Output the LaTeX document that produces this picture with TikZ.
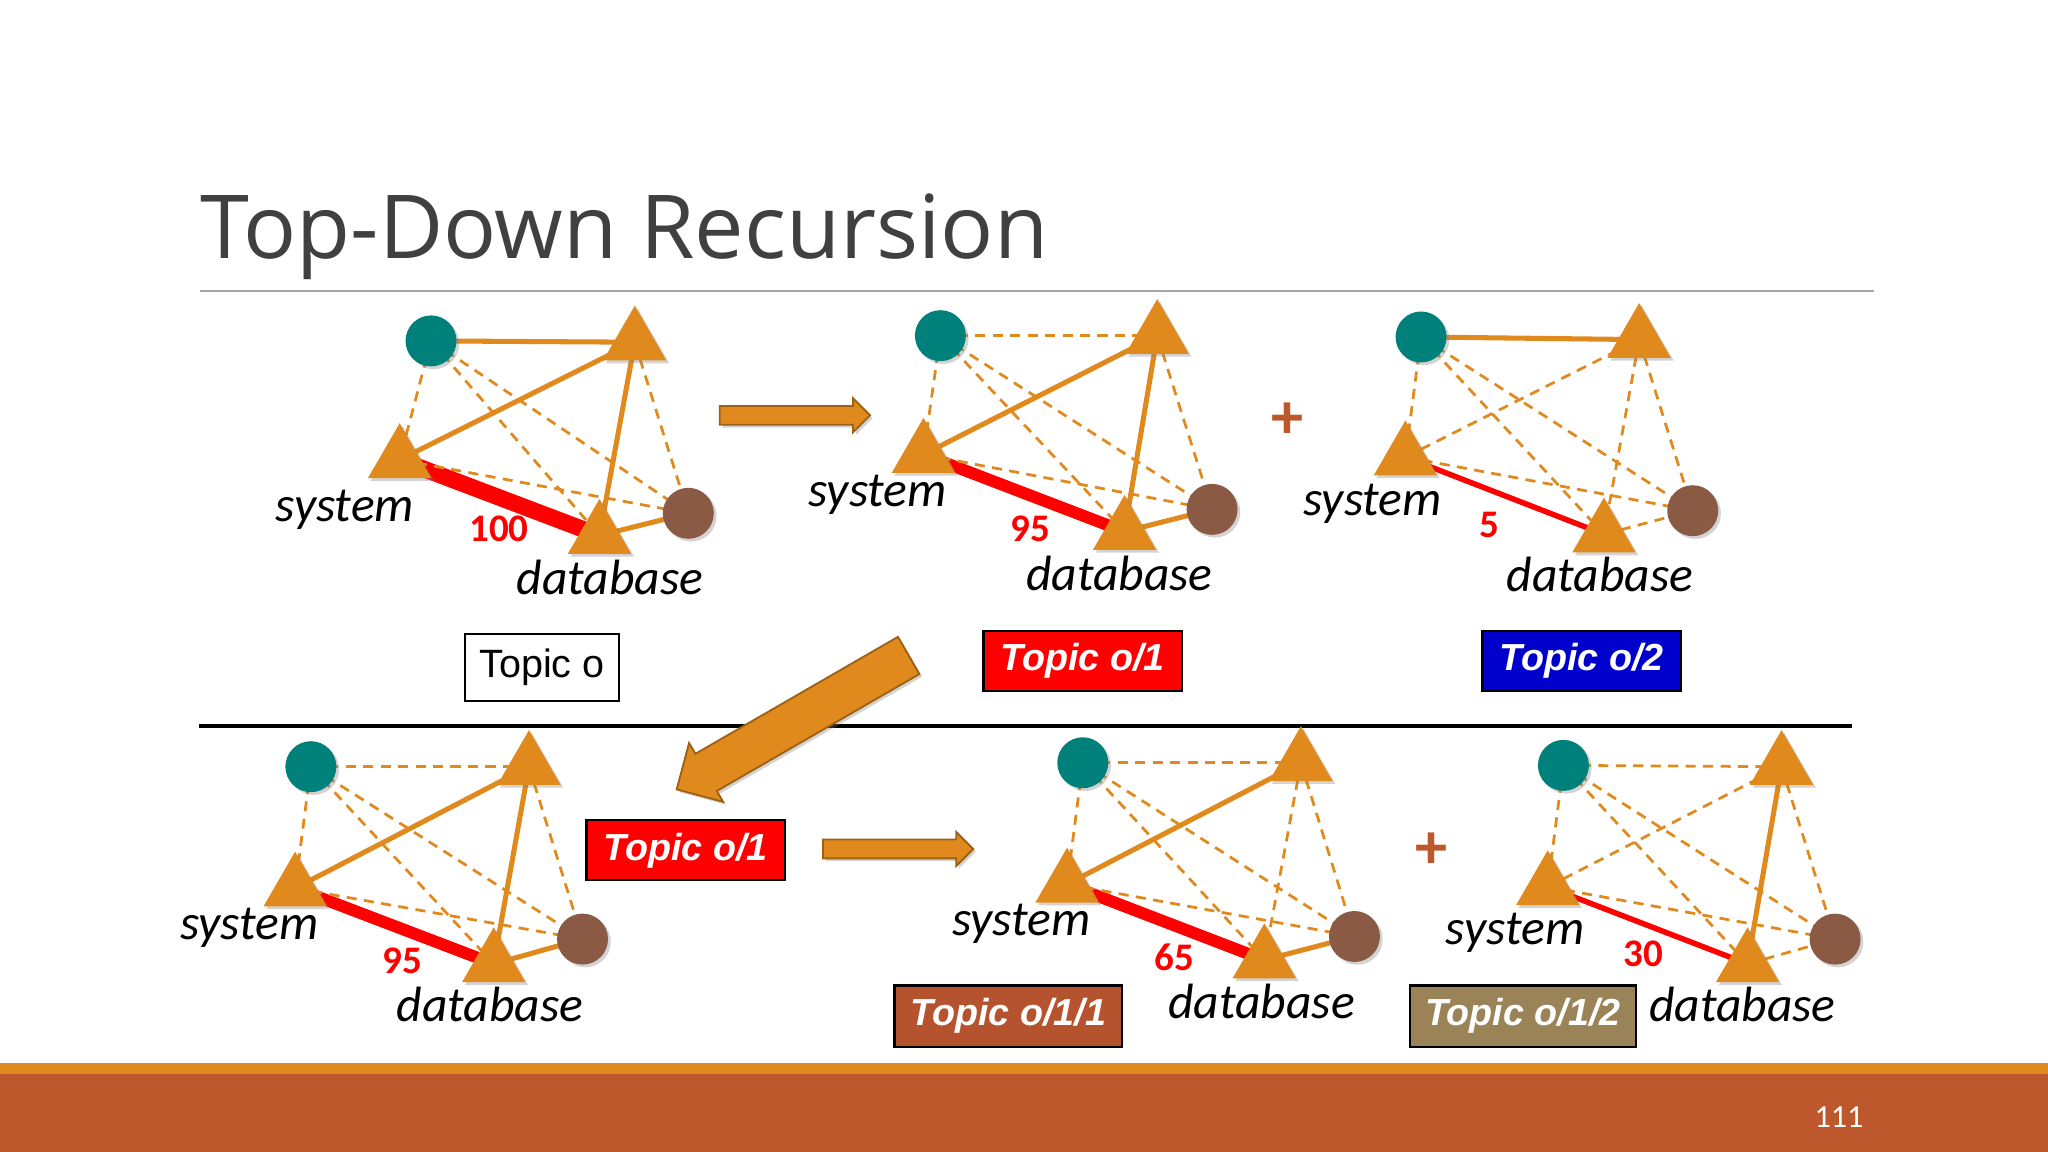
\documentclass[tikz,border=0pt]{standalone}
\usepackage{fontspec}
\setmainfont{Carlito}
\newfontfamily\titlefont{Open Sans}
\newfontfamily\boxfont{Liberation Sans}
\usetikzlibrary{shapes.geometric,shapes.arrows,shadows,backgrounds}
\definecolor{orng}{HTML}{E08A1E}
\definecolor{rust}{HTML}{BD582C}
\definecolor{teal1}{HTML}{00807A}
\definecolor{brwn}{HTML}{8B5A45}
\definecolor{brn2}{HTML}{B5532E}
\definecolor{olv}{HTML}{9A8356}
\tikzset{
  shd/.style={drop shadow={opacity=0.35,shadow xshift=0.6pt,shadow yshift=-0.6pt}},
  tri/.style={regular polygon,regular polygon sides=3,minimum size=0.56cm,inner sep=0,fill=orng,shd},
  tnode/.style={circle,minimum size=0.39cm,inner sep=0,fill=teal1,shd},
  bnode/.style={circle,minimum size=0.39cm,inner sep=0,fill=brwn,shd},
  se/.style={orng,line width=1.1pt},
  de/.style={orng,line width=0.6pt,dash pattern=on 2.2pt off 1.6pt},
  re/.style={red,line width=#1},
  lbl/.style={font=\fontsize{10.8}{12}\selectfont\itshape},
  num/.style={text=red,font=\fontsize{8.5}{10}\selectfont\bfseries},
  topic/.style={draw=black,line width=0.5pt,fill=#1,text=white,minimum width=1.52cm,minimum height=0.46cm,inner sep=0,
    font=\boxfont\fontsize{8.2}{9}\selectfont\bfseries\itshape},
  rarrow/.style={single arrow,fill=orng,draw=orng!70!black,line width=0.4pt,minimum height=1.15cm,
    minimum width=0.26cm,single arrow head extend=0.05cm,inner xsep=0,inner ysep=0.055cm,text height=0pt,text depth=0pt,shd},
  plus/.style={text=rust,font=\fontsize{14}{14}\selectfont\bfseries}
}
% prefix, teal, top triangle, system, database, brown
\newcommand\Gnodes[6]{%
  \node[tnode] (#1t) at (#2) {};
  \node[tri] (#1u) at (#3) {};
  \node[tri] (#1s) at (#4) {};
  \node[tri] (#1d) at (#5) {};
  \node[bnode] (#1b) at (#6) {};
}
\begin{document}
\begin{tikzpicture}[x=0.01cm,y=-0.01cm]
\useasboundingbox (0,0) rectangle (1568,882);
% frame
\fill[orng] (0,814) rectangle (1568,822);
\fill[rust] (0,822) rectangle (1568,882);
\node[text=white,font=\fontsize{7}{8}\selectfont] (pg) at (1408,855) {111};
\node[anchor=base west,text=black!75,inner sep=0,font=\titlefont\fontsize{19.2}{22}\selectfont] (title) at (153,198) {Top-Down Recursion};
\coordinate (h1) at (153,223); \coordinate (h2) at (1435,223);
\draw[black!35,line width=0.5pt] (h1) -- (h2);
\coordinate (m1) at (152,556); \coordinate (m2) at (1418,556);
\draw[black,line width=0.8pt] (m1) -- (m2);

% graph 1
\Gnodes{a}{330,261}{486,262}{306,352}{459,410}{527,393}
% graph 2
\Gnodes{b}{720,257}{886,257}{707,348}{861,407}{928,390}
% graph 3
\Gnodes{c}{1088,258}{1255,260}{1076,350}{1228,409}{1296,391}
% graph 4
\Gnodes{d}{238,587}{405,587}{226,680}{378,738}{446,719}
% graph 5
\Gnodes{e}{829,584}{996,584}{817,677}{968,735}{1037,717}
% graph 6
\Gnodes{f}{1197,586}{1364,587}{1185,679}{1338,738}{1405,719}

\begin{scope}[on background layer]
% graph 1
\draw[se] (at.center) -- (au.center);
\draw[se] (as.center) -- (au.center);
\draw[se] (au.center) -- (ad.center);
\draw[se] (ad.center) -- (ab.center);
\draw[re=3.6pt] (as.center) -- (ad.center);
\foreach \p/\q in {at/as,at/ad,at/ab,as/ab,au/ab} \draw[de] (\p.center) -- (\q.center);
% graph 2
\draw[se] (bs.center) -- (bu.center);
\draw[se] (bu.center) -- (bd.center);
\draw[se] (bd.center) -- (bb.center);
\draw[re=2.6pt] (bs.center) -- (bd.center);
\foreach \p/\q in {bt/bu,bt/bs,bt/bd,bt/bb,bs/bb,bu/bb} \draw[de] (\p.center) -- (\q.center);
% graph 3
\draw[se] (ct.center) -- (cu.center);
\draw[re=1.2pt] (cs.center) -- (cd.center);
\foreach \p/\q in {cs/cu,cu/cd,cd/cb,ct/cs,ct/cd,ct/cb,cs/cb,cu/cb} \draw[de] (\p.center) -- (\q.center);
% graph 4
\draw[se] (ds.center) -- (du.center);
\draw[se] (du.center) -- (dd.center);
\draw[se] (dd.center) -- (db.center);
\draw[re=2.6pt] (ds.center) -- (dd.center);
\foreach \p/\q in {dt/du,dt/ds,dt/dd,dt/db,ds/db,du/db} \draw[de] (\p.center) -- (\q.center);
% graph 5
\draw[se] (es.center) -- (eu.center);
\draw[se] (ed.center) -- (eb.center);
\draw[re=2.6pt] (es.center) -- (ed.center);
\foreach \p/\q in {et/eu,eu/ed,et/es,et/ed,et/eb,es/eb,eu/eb} \draw[de] (\p.center) -- (\q.center);
% graph 6
\draw[se] (fu.center) -- (fd.center);
\draw[re=1.2pt] (fs.center) -- (fd.center);
\foreach \p/\q in {ft/fu,fs/fu,fd/fb,ft/fs,ft/fd,ft/fb,fs/fb,fu/fb} \draw[de] (\p.center) -- (\q.center);
\end{scope}

% labels
\node[lbl] (l1s) at (264,390) {system};
\node[lbl] (l1d) at (467,442) {database};
\node[num] (n1) at (382,405) {100};
\node[lbl] (l2s) at (672,379) {system};
\node[lbl] (l2d) at (857,439) {database};
\node[num] (n2) at (789,405) {95};
\node[lbl] (l3s) at (1051,386) {system};
\node[lbl] (l3d) at (1225,440) {database};
\node[num] (n3) at (1140,402) {5};
\node[lbl] (l4s) at (191,710) {system};
\node[lbl] (l4d) at (375,769) {database};
\node[num] (n4) at (308,736) {95};
\node[lbl] (l5s) at (782,707) {system};
\node[lbl] (l5d) at (966,767) {database};
\node[num] (n5) at (899,733) {65};
\node[lbl] (l6s) at (1160,714) {system};
\node[lbl] (l6d) at (1334,769) {database};
\node[num] (n6) at (1258,730) {30};

% topic boxes
\node[topic=white,text=black,font=\boxfont\fontsize{8.6}{9}\selectfont,minimum width=1.18cm,minimum height=0.51cm] (k0) at (415,511) {Topic o};
\node[topic=red] (k1) at (829,506) {Topic o/1};
\node[topic={blue!80!black}] (k2) at (1211,506) {Topic o/2};
\node[topic=red] (k3) at (525,651) {Topic o/1};
\node[topic=brn2,minimum width=1.74cm,minimum height=0.47cm] (k4) at (772,778) {Topic o/1/1};
\node[topic=olv,minimum width=1.73cm,minimum height=0.47cm] (k5) at (1166,778) {Topic o/1/2};

% arrows and plus signs
\node[rarrow] (ar1) at (605,318) {};
\node[rarrow] (ar2) at (684,650) {};
\node[single arrow,fill=orng,draw=orng!70!black,line width=0.4pt,minimum height=2.05cm,minimum width=0.52cm,
  single arrow head extend=0.08cm,inner xsep=0,inner ysep=0.13cm,text height=0pt,text depth=0pt,rotate=210,shd] (ar3) at (614,549) {};
\node[plus] (p1) at (986,322) {+};
\node[plus] (p2) at (1096,651) {+};
\end{tikzpicture}
\end{document}
